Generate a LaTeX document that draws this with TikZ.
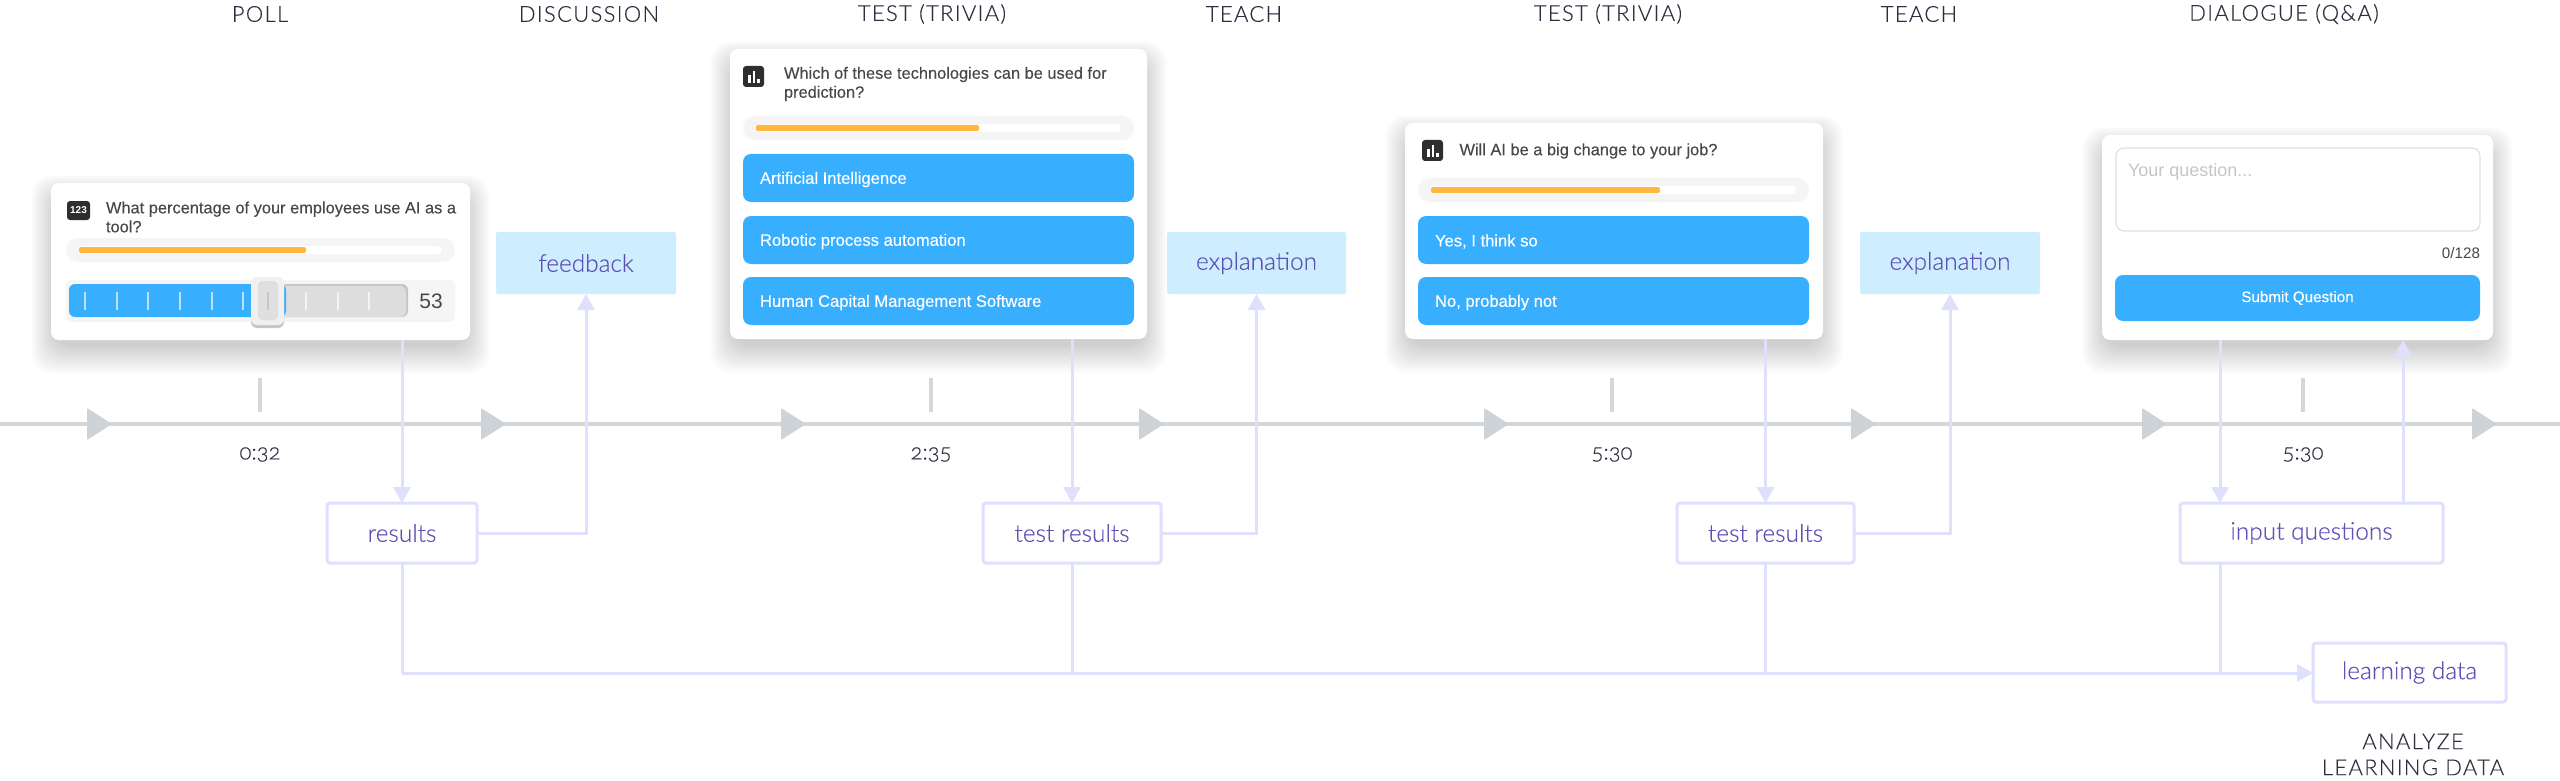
\documentclass[tikz,border=0pt]{standalone}
\usepackage{fontspec}
\usetikzlibrary{arrows.meta,calc}
\setmainfont{Liberation Sans}
\newfontfamily\qf[FakeBold=0.2]{Liberation Sans}
\newfontfamily\ral[Numbers=OldStyle,UprightFont=* Light,FakeBold=0.2]{Lato}
\newfontfamily\ralcaps[LetterSpace=6,UprightFont=* Light,FakeBold=0.2]{Lato}
\definecolor{conn}{HTML}{DFE0FD}
\definecolor{lbl}{HTML}{5F50B8}
\definecolor{sky}{HTML}{CEEEFF}
\definecolor{track}{HTML}{D3D7DA}
\definecolor{tri}{HTML}{CDD3D6}
\definecolor{blue}{HTML}{38AEFF}
\definecolor{amber}{HTML}{FFB73F}
\definecolor{ink}{HTML}{2E2E40}
\definecolor{qtext}{HTML}{484848}
\definecolor{pale}{HTML}{F5F5F5}
\definecolor{dark}{HTML}{2E2E2E}
\tikzset{
  x=0.5pt,y=-0.5pt,
  px/.style={inner sep=0pt,outer sep=0pt},
  conbox/.style={px,draw=conn,line width=1.5pt,rounded corners=1.5pt,fill=white,text=lbl,font=\ral\fontsize{12.2}{14}\selectfont},
  skybox/.style={px,fill=sky,rounded corners=1pt,text=lbl,font=\ral\fontsize{12.2}{14}\selectfont},
  card/.style={px,fill=white,rounded corners=4pt},
  answer/.style={px,fill=blue,rounded corners=4pt},
  anstext/.style={px,anchor=west,text=white,font=\qf\fontsize{8.3}{10}\selectfont},
  question/.style={px,anchor=west,align=left,text=qtext,font=\qf\fontsize{8.2}{9.5}\selectfont},
  phase/.style={px,text=ink,font=\ralcaps\fontsize{11}{13}\selectfont},
  stamp/.style={px,text=ink,font=\ral\fontsize{11}{13}\selectfont},
  link/.style={draw=conn,line width=1.5pt,line cap=butt},
  flow/.style={link,-{Triangle[length=8pt,width=8.5pt,color=conn]}},
  timeline/.style={draw=track,line width=2pt},
}
% rounded-box helper: name, x0, y0, x1, y1, style, text
\newcommand{\pxbox}[7]{\node[#6,minimum width={(#4-#2)*0.5pt},minimum height={(#5-#3)*0.5pt}] (#1) at ({(#2+#4)/2},{(#3+#5)/2}) {#7};}
\newcommand{\softshadow}[4]{%
  \foreach \k in {0,...,23}{%
    \fill[black,opacity=0.0095,rounded corners=10pt]
      ({#1-20+\k*1.0},{#2-8+\k*0.9}) rectangle ({#3+20-\k*1.0},{#4+34-\k*1.2});
  }}
\newcommand{\pbar}[4]{% x0, x1, inner right, y top
  \fill[pale,rounded corners=6pt] (#1,#4) rectangle (#2,#4+24);
  \fill[white,rounded corners=2pt] ({#1+13},{#4+8}) rectangle ({#2-13},{#4+16});
  \fill[amber,rounded corners=1pt] ({#1+13},{#4+9}) rectangle (#3,{#4+15});
}
\newcommand{\baricon}[2]{% x, y top-left
  \fill[dark,rounded corners=1.5pt] (#1,#2) rectangle ({#1+21},{#2+21});
  \fill[white] ({#1+5},{#2+9}) rectangle ({#1+7.5},{#2+17});
  \fill[white] ({#1+9.5},{#2+5}) rectangle ({#1+12},{#2+17});
  \fill[white] ({#1+14},{#2+13}) rectangle ({#1+16.5},{#2+17});
}
\begin{document}
\begin{tikzpicture}
\useasboundingbox (0,0) rectangle (2560,781);
\fill[white] (0,0) rectangle (2560,781);
% timeline
\coordinate (tlstart) at (0,424);
\coordinate (tlend) at (2560,424);
\draw[timeline] (tlstart) -- (tlend);
\foreach \t in {87,481,781,1139,1484,1851,2142,2472}{
  \fill[tri,rounded corners=0.5pt] (\t,408) -- ({\t+25},424) -- (\t,440) -- cycle;
}
\foreach \t/\lab in {260/0:32,931/2:35,1612/5:30,2303/5:30}{
  \draw[draw=track,line width=2pt] (\t,378) -- (\t,412);
  \node[stamp] at (\t,454.5) {\lab};
}
% phase titles
\node[phase] (p1) at (260,14) {POLL};
\node[phase] (p2) at (589,14) {DISCUSSION};
\node[phase] (p3) at (932,14) {TEST (TRIVIA)};
\node[phase] (p4) at (1244,14) {TEACH};
\node[phase] (p5) at (1608,14) {TEST (TRIVIA)};
\node[phase] (p6) at (1919,14) {TEACH};
\node[phase] (p7) at (2284,14) {DIALOGUE (Q\&A)};
\node[phase,align=center,font=\ralcaps\fontsize{11}{13}\selectfont] (p8) at (2413,754.5) {ANALYZE\\LEARNING DATA};
% shadows
\softshadow{51}{183}{470}{340}
\softshadow{730}{49}{1147}{339}
\softshadow{1405}{123}{1823}{339}
\softshadow{2102}{135}{2493}{340}
% card 1
\pxbox{card1}{51}{183}{470}{340}{card}{}
\fill[dark,rounded corners=1.5pt] (67,201) rectangle (90,220);
\node[px,text=white,font=\bfseries\fontsize{5}{6}\selectfont] (icon1) at (78.5,210.5) {123};
\node[question] (q1) at (106,217) {What percentage of your employees use AI as a\\tool?};
\pbar{66}{455}{306}{238}
\fill[pale,rounded corners=3pt] (66,280) rectangle (455,322);
\fill[gray!45,rounded corners=3pt] (255,284) rectangle (408,317);
\fill[gray!27,rounded corners=3pt] (255,286) rectangle (406,317);
\fill[blue,rounded corners=3pt] (69,284) rectangle (286,317);
\foreach \t in {85,117,148,180,212,243,306,338,369}{
  \draw[white,opacity=0.65,line width=1pt] (\t,292) -- (\t,310);
}
\fill[gray!45,rounded corners=3pt] (251,279) rectangle (284,328);
\fill[gray!12,rounded corners=3pt] (251,277) rectangle (284,325);
\fill[gray!25,rounded corners=2pt] (258,281) rectangle (278,320);
\draw[gray!45,line width=0.6pt] (268,292) -- (268,310);
\node[px,text=qtext,font=\fontsize{10.5}{12}\selectfont] (v1) at (431,301) {53};
% card 2
\pxbox{card2}{730}{49}{1147}{339}{card}{}
\baricon{743}{66}
\node[question] (q2) at (784,84) {Which of these technologies can be used for\\prediction?};
\pbar{743}{1134}{979}{116}
\pxbox{a21}{743}{154}{1134}{202}{answer}{}
\pxbox{a22}{743}{216}{1134}{264}{answer}{}
\pxbox{a23}{743}{277}{1134}{325}{answer}{}
\node[anstext] (t21) at (760,179.5) {Artificial Intelligence};
\node[anstext] (t22) at (760,241.5) {Robotic process automation};
\node[anstext] (t23) at (760,302.5) {Human Capital Management Software};
% card 3
\pxbox{card3}{1405}{123}{1823}{339}{card}{}
\baricon{1422}{140}
\node[question] (q3) at (1459.5,151) {Will AI be a big change to your job?};
\pbar{1418}{1809}{1660}{178}
\pxbox{a31}{1418}{216}{1809}{264}{answer}{}
\pxbox{a32}{1418}{277}{1809}{325}{answer}{}
\node[anstext] (t31) at (1435,241.5) {Yes, I think so};
\node[anstext] (t32) at (1435,302.5) {No, probably not};
% card 4
\pxbox{card4}{2102}{135}{2493}{340}{card}{}
\pxbox{ta}{2116}{148}{2480}{231}{px,draw=gray!25,line width=0.6pt,rounded corners=4pt,fill=white}{}
\node[px,anchor=west,text=gray!45,font=\fontsize{9}{10}\selectfont] (ph) at (2128,172) {Your question...};
\node[px,anchor=east,text=qtext,font=\fontsize{7.6}{9}\selectfont] (cnt) at (2480,253) {0/128};
\pxbox{a41}{2115}{275}{2480}{321}{answer}{}
\node[px,text=white,font=\qf\fontsize{7.6}{9}\selectfont] at (a41) {Submit Question};
% feedback boxes
\pxbox{fb}{496}{232}{676}{294}{skybox}{feedback}
\pxbox{ex1}{1167}{232}{1346}{294}{skybox}{explanation}
\pxbox{ex2}{1860}{232}{2040}{294}{skybox}{explanation}
% white boxes
\pxbox{res}{327}{503}{477}{563}{conbox}{results}
\pxbox{tr1}{983}{503}{1161}{563}{conbox}{test results}
\pxbox{tr2}{1677}{503}{1854}{563}{conbox}{test results}
\pxbox{iq}{2180}{503}{2443}{563}{conbox}{input questions}
\pxbox{ld}{2313}{643}{2506}{702}{conbox}{learning data}
% anchors for connectors
\coordinate (iqdown) at (2220,503);
\coordinate (iqup) at (2403,503);
\coordinate (busstart) at (403,673);
\coordinate (busend) at (2313,673);
% connectors
\draw[flow] (card1.south -| res.north) -- (res.north);
\draw[flow] (card2.south -| tr1.north) -- (tr1.north);
\draw[flow] (card3.south -| tr2.north) -- (tr2.north);
\draw[flow] (card4.south -| iqdown) -- (iqdown);
\draw[flow] (iqup) -- (card4.south -| iqup);
\draw[flow] (res.east) -| (fb.south);
\draw[flow] (tr1.east) -| (ex1.south);
\draw[flow] (tr2.east) -| (ex2.south);
\draw[link] (res.south) -- (res.south |- busstart);
\draw[link] (tr1.south) -- (tr1.south |- busstart);
\draw[link] (tr2.south) -- (tr2.south |- busstart);
\draw[link] (iqdown |- iq.south) -- (iqdown |- busstart);
\draw[flow] (res.south |- busstart) -- (busend);
\end{tikzpicture}
\end{document}
